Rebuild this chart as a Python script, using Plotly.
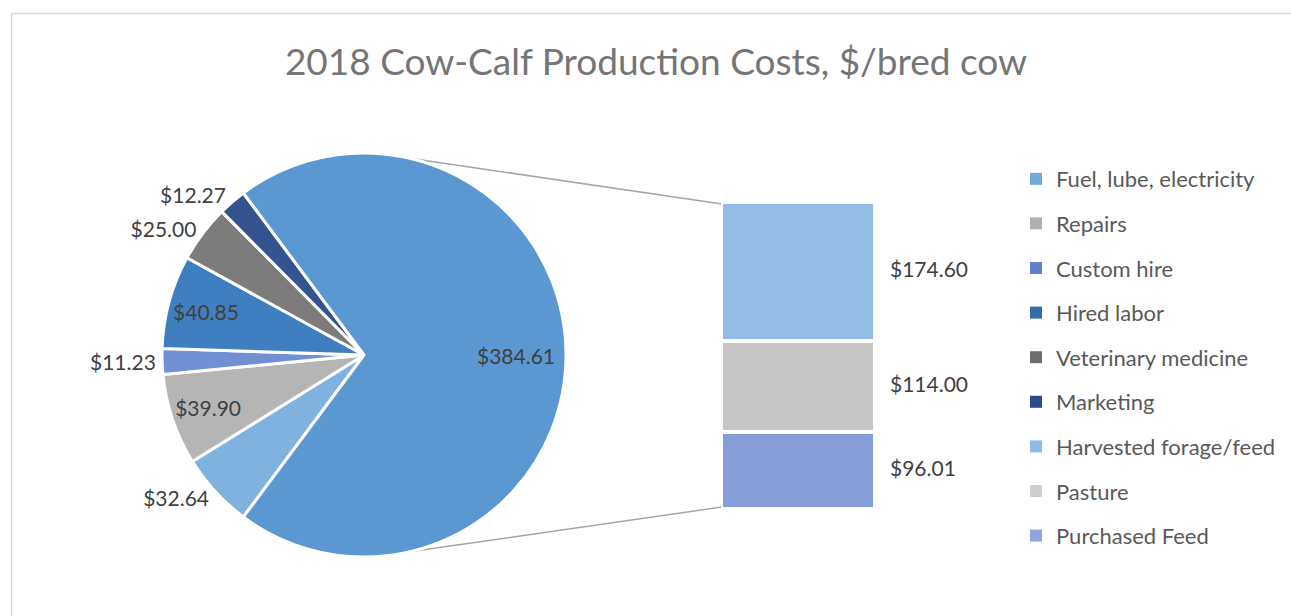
import math
import plotly.graph_objects as go

# ---------------- data ----------------
title_text = "2018 Cow-Calf Production Costs, $/bred cow"
pie_labels = ["Fuel, lube, electricity", "Repairs", "Custom hire", "Hired labor",
              "Veterinary medicine", "Marketing", "Other"]
pie_values = [32.64, 39.90, 11.23, 40.85, 25.00, 12.27, 384.61]
bar_labels = ["Harvested forage/feed", "Pasture", "Purchased Feed"]
bar_values = [174.60, 114.00, 96.01]

# ---------------- styles ----------------
W, H = 1291, 616
FONT = "Lato"
pie_colors = ["#80b2e0", "#b5b5b5", "#7190d3", "#3f7fbf", "#7c7c7c", "#33548f", "#5b97d1"]
bar_colors = ["#95bee6", "#c6c6c6", "#879fd9"]
legend_colors = ["#72a9dc", "#b0b0b0", "#5f80cc", "#2f6ea9", "#6f6f6f", "#2d4b88",
                 "#8dbbe6", "#cdcdcd", "#8da5dc"]
label_color = "#404040"


def px(x):
    return x / W


def py(y):
    return 1 - y / H


# pie geometry (pixels)
cx, cy, r = 364, 355, 202
total = sum(pie_values)
other_angle = pie_values[-1] / total * 360
rotation = 90 + other_angle / 2

positions = ["outside", "inside", "outside", "inside", "outside", "outside", "none"]

fig = go.Figure()

fig.add_trace(go.Pie(
    labels=pie_labels,
    values=pie_values,
    sort=False,
    direction="clockwise",
    rotation=rotation,
    marker=dict(colors=pie_colors, line=dict(color="white", width=3)),
    texttemplate="$%{value:.2f}",
    textposition=positions,
    insidetextorientation="horizontal",
    textfont=dict(family=FONT, size=21, color=label_color),
    domain=dict(x=[px(cx - r), px(cx + r)], y=[py(cy + r), py(cy - r)]),
    showlegend=False,
    hoverinfo="label+value",
))

# label of the large "Other" slice, placed along its mid-angle
other_mid = math.radians(rotation - other_angle / 2)
annotations = [dict(
    x=px(cx + 0.75 * r * math.sin(other_mid)), y=py(cy - 0.75 * r * math.cos(other_mid)),
    xref="paper", yref="paper", text="$%.2f" % pie_values[-1], showarrow=False,
    xanchor="center", yanchor="middle",
    font=dict(family=FONT, size=21, color=label_color),
)]

# stacked bar (bottom to top: Purchased, Pasture, Harvested)
bar_left, bar_right, bar_top, bar_bottom = 721, 875, 202, 509
bar_w_px = bar_right - bar_left
x_dom_right = 1015
x_range = [-0.5, -0.5 + (x_dom_right - bar_left) / bar_w_px]
bar_total = sum(bar_values)
base = 0.0
mids = {}
for lab, val, col in reversed(list(zip(bar_labels, bar_values, bar_colors))):
    fig.add_trace(go.Bar(
        x=[0], y=[val], base=[base], width=1,
        marker=dict(color=col, line=dict(color="white", width=4)),
        showlegend=False, name=lab, hoverinfo="name+y",
        xaxis="x", yaxis="y",
    ))
    mids[lab] = base + val / 2
    base += val

fig.add_trace(go.Scatter(
    x=[0.5 + 15 / bar_w_px] * len(bar_labels),
    y=[mids[l] for l in bar_labels],
    text=["$%.2f" % v for v in bar_values],
    mode="text", textposition="middle right",
    textfont=dict(family=FONT, size=21, color=label_color),
    showlegend=False, hoverinfo="skip",
    xaxis="x", yaxis="y",
))

# legend entries
legend_labels = pie_labels[:-1] + bar_labels
for i, (lab, col) in enumerate(zip(legend_labels, legend_colors)):
    fig.add_trace(go.Scatter(
        x=[None], y=[None], mode="markers",
        marker=dict(symbol="square", size=9, color=col),
        name=lab, legendgroup="g%d" % i, showlegend=True,
        xaxis="x", yaxis="y",
    ))

# connector lines from pie to bar
shapes = []
for ang, by in [(13, bar_top + 2), (167, bar_bottom - 2)]:
    a = math.radians(ang)
    sx = cx + r * math.sin(a)
    sy = cy - r * math.cos(a)
    shapes.append(dict(type="line", xref="paper", yref="paper",
                       x0=px(sx), y0=py(sy), x1=px(bar_left + 1), y1=py(by),
                       line=dict(color="#a6a6a6", width=1.5), layer="below"))
# chart frame
shapes.append(dict(type="rect", xref="paper", yref="paper",
                   x0=px(11.5), y0=py(13.5), x1=1.05, y1=-0.05,
                   line=dict(color="#d9d9d9", width=1.5), fillcolor="rgba(0,0,0,0)"))

fig.update_layout(
    width=W, height=H, autosize=False,
    margin=dict(l=0, r=0, t=0, b=0),
    paper_bgcolor="white", plot_bgcolor="white",
    title=dict(text=title_text, x=px(656), y=py(62), xanchor="center", yanchor="middle",
               font=dict(family=FONT, size=37, color="#757575")),
    barmode="stack",
    xaxis=dict(domain=[px(bar_left), px(x_dom_right)], range=x_range, visible=False,
               fixedrange=True),
    yaxis=dict(domain=[py(bar_bottom), py(bar_top)], range=[0, bar_total], visible=False,
               fixedrange=True),
    legend=dict(x=px(1016), y=py(158), xanchor="left", yanchor="top",
                font=dict(family=FONT, size=22, color="#595959"),
                traceorder="grouped", tracegroupgap=13, itemsizing="constant",
                bgcolor="rgba(0,0,0,0)"),
    uniformtext=dict(minsize=21, mode="show"),
    annotations=annotations,
    shapes=shapes,
    font=dict(family=FONT),
)

fig.write_html("out.html")
